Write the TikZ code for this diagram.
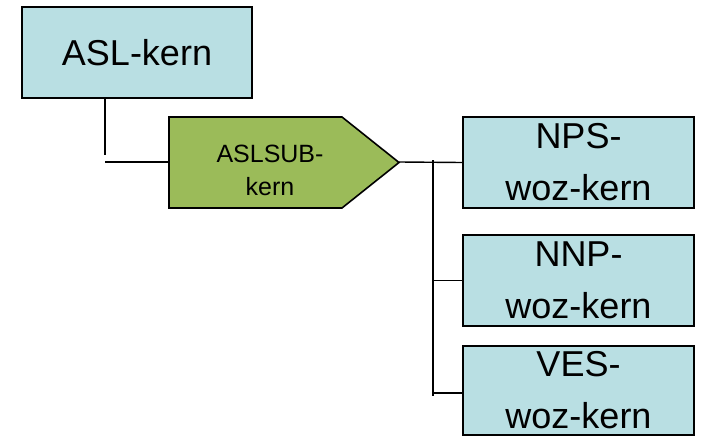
\documentclass[tikz,border=0pt]{standalone}
\usepackage{fontspec}
\setmainfont{Liberation Sans}
\definecolor{boxblue}{HTML}{B9DFE3}
\definecolor{boxgreen}{HTML}{9BBB59}
\tikzset{
  bluebox/.style={draw=black, line width=1.6pt, fill=boxblue, inner sep=0pt, align=center, font=\fontsize{36}{52}\selectfont},
  conn/.style={draw=black, line width=1.4pt},
}
\begin{document}
\begin{tikzpicture}[x=1pt,y=-1pt]
\useasboundingbox (0,0) rectangle (703,436);
\begin{scope}
\clip (0,0) rectangle (703,436);
% top box
\node[bluebox, minimum width=230pt, minimum height=91pt] (asl) at (137,52.5) {ASL-kern};
% pentagon
\draw[line width=1.6pt, fill=boxgreen] (169,117) -- (342,117) -- (399,162.5) -- (342,208) -- (169,208) -- cycle;
\node[align=center, font=\fontsize{25}{33}\selectfont, inner sep=0pt] (sub) at (270,170) {ASLSUB-\\kern};
\coordinate (subW) at (169,162);
\coordinate (subE) at (399,162);
% right boxes
\node[bluebox, minimum width=231pt, minimum height=91pt] (nps) at (578.5,162.5) {NPS-\\woz-kern};
\node[bluebox, minimum width=231pt, minimum height=91pt] (nnp) at (578.5,280.5) {NNP-\\woz-kern};
\node[bluebox, minimum width=231pt, minimum height=89pt] (ves) at (578.5,390.5) {VES-\\woz-kern};
% connectors
\coordinate (aslDrop) at (105,155);
\coordinate (aslTurn) at (105,162);
\draw[conn] (asl.south -| aslDrop) -- (aslDrop);
\draw[conn] (aslTurn) -- (subW);
\draw[conn] (subE) -- (nps.west);
\coordinate (busTop) at (433,160);
\coordinate (busBot) at (433,396);
\draw[conn] (busTop) -- (busBot);
\draw[conn] (nnp.west -| busTop) -- (nnp.west);
\draw[conn] (busBot |- 0,393) -- (ves.west |- 0,393);
\end{scope}
\end{tikzpicture}
\end{document}
